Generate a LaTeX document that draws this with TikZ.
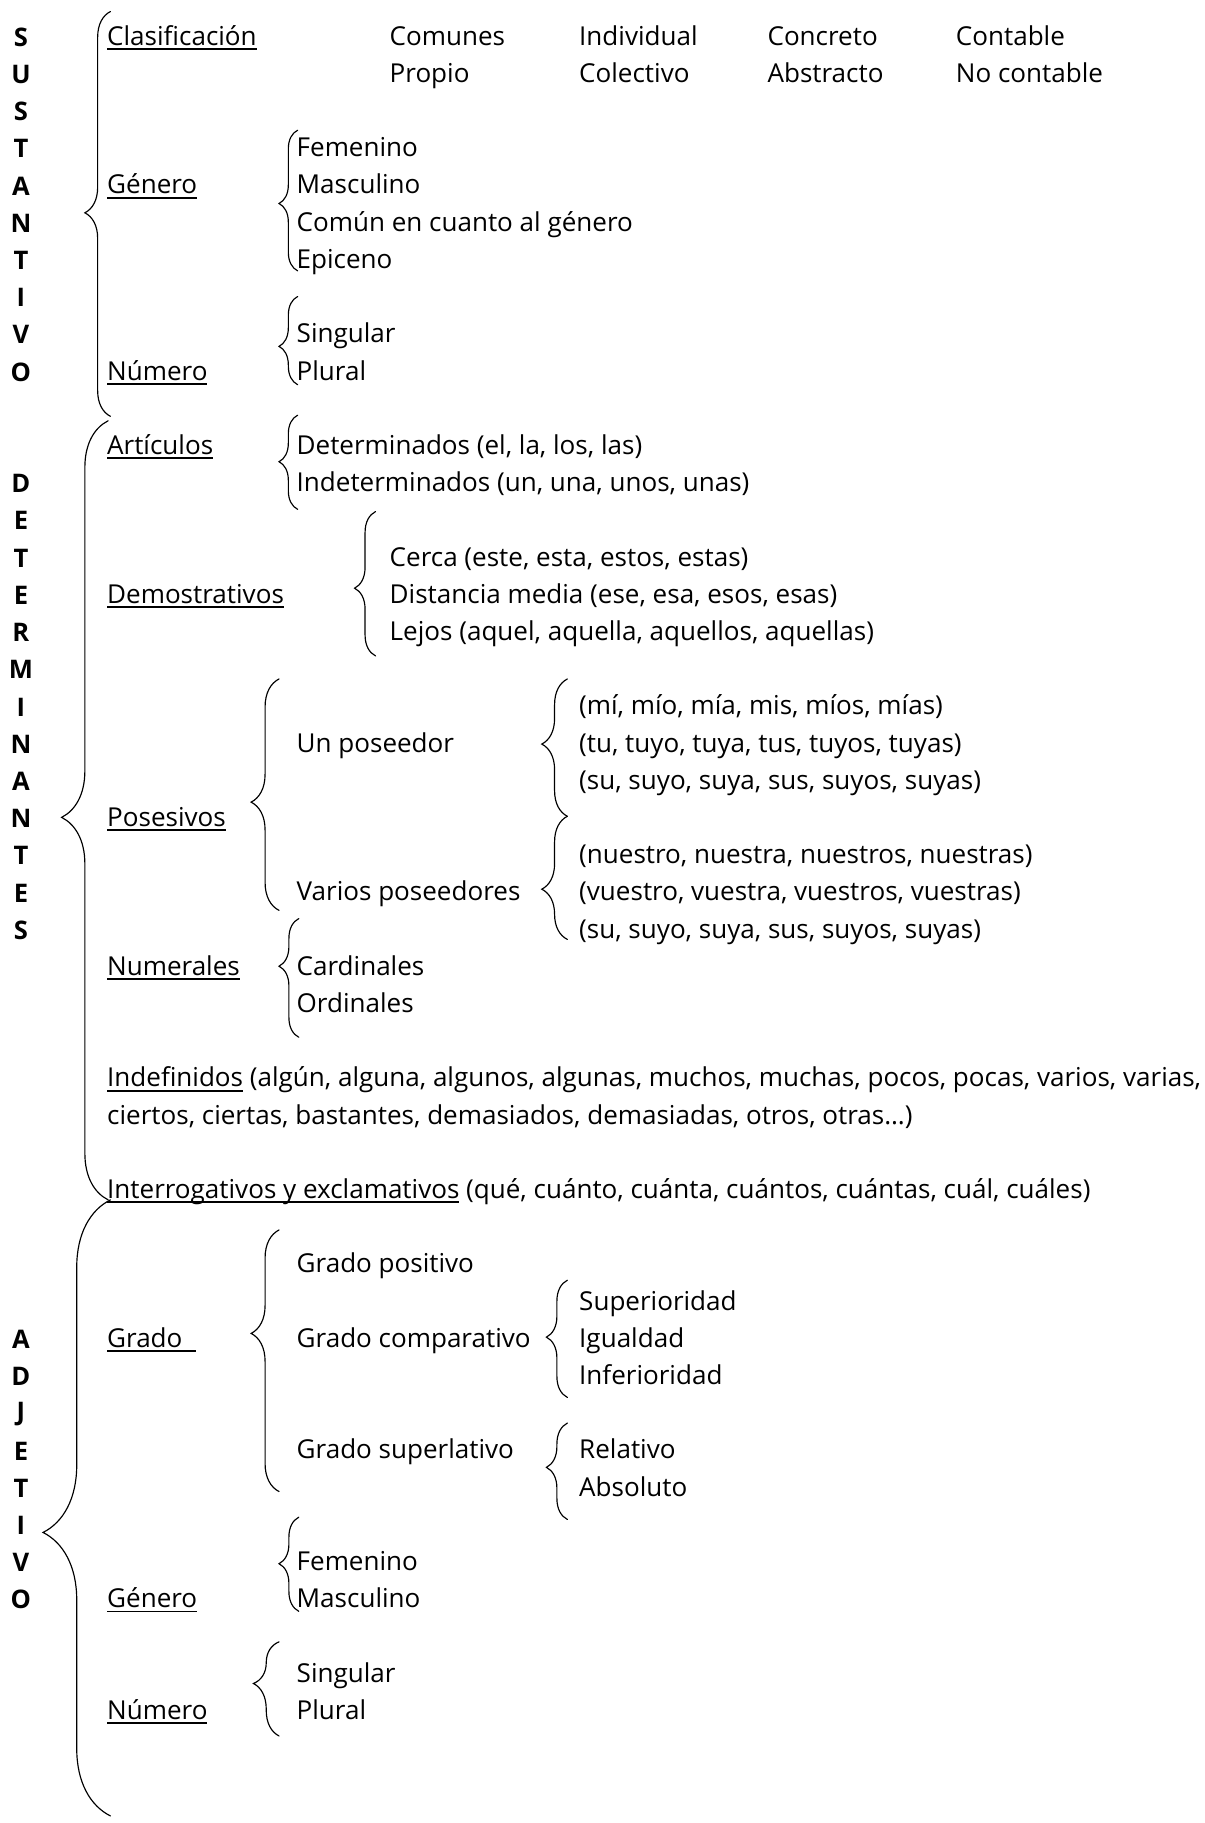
\documentclass[tikz,border=0pt]{standalone}
\usepackage{fontspec}
\setmainfont{Open Sans}
\usetikzlibrary{decorations.pathreplacing}
\tikzset{
    texto/.style = {
      anchor=west, inner sep=0pt, text height=1.5ex, text depth=.25ex, yshift=-3.5pt,
      font=\fontsize{22.4}{26}\selectfont,
    },
    letra/.style = {
      inner sep=0pt, font=\fontsize{22}{26}\selectfont\bfseries,
    },
    llave/.style = {decorate, line width=1pt, line cap=round},
}
\newcommand{\subr}[1]{%
  %% Underlined heading, thick rule below the baseline
  \setbox0=\hbox{#1}\rlap{\rule[-4pt]{\wd0}{1.6pt}}\box0\relax
}
\newcommand{\llave}[5]{%
  %% Draw a curly brace pointing to the left:
  %% Arguments:
  %%    1. x of the brace ends
  %%    2. top row
  %%    3. row of the tip
  %%    4. bottom row
  %%    5. amplitude
  \pgfmathsetmacro{\asp}{(#4-#3)/(#4-#2)}
  \draw [llave, decoration={brace, amplitude=#5, aspect=\asp}] (#1,#4) -- (#1,#2);
}

\begin{document}
\begin{tikzpicture}[x=1pt, y=-32pt]
    \useasboundingbox (0,0) rectangle (1036,49);

    %% Vertical titles
    \foreach \l [count=\i] in {S,U,S,T,A,N,T,I,V,O}
      \node [letra] (sus-\i) at (18,\i) {\l};
    \foreach \l [count=\i from 13] in {D,E,T,E,R,M,I,N,A,N,T,E,S}
      \node [letra] (det-\i) at (18,\i) {\l};
    \foreach \l [count=\i from 36] in {A,D,J,E,T,I,V,O}
      \node [letra] (adj-\i) at (18,\i) {\l};

    %% Sustantivo
    \llave{95}{0.31}{5.72}{11.19}{22pt}
    \node [texto] (s-clas) at (92,1) {\subr{Clasificación}};
    \foreach \x/\arriba/\abajo [count=\i] in {335/Comunes/Propio, 498/Individual/Colectivo,
        660/Concreto/Abstracto, 822/Contable/No contable}{
      \node [texto] (s-clas-\i a) at (\x,1) {\arriba};
      \node [texto] (s-clas-\i b) at (\x,2) {\abajo};
    }
    \node [texto] (s-gen) at (92,5) {\subr{Género}};
    \llave{256}{3.5}{5.47}{7.28}{16pt}
    \foreach \t [count=\i from 4] in {Femenino, Masculino, Común en cuanto al género, Epiceno}
      \node [texto] (s-gen-\i) at (255,\i) {\t};
    \node [texto] (s-num) at (92,10) {\subr{Número}};
    \llave{256}{7.97}{9.31}{10.34}{16pt}
    \node [texto] (s-num-9) at (255,9) {Singular};
    \node [texto] (s-num-10) at (255,10) {Plural};

    %% Determinantes
    \llave{93}{11.31}{21.97}{32.25}{40pt}
    \node [texto] (d-art) at (92,12) {\subr{Artículos}};
    \llave{256}{11.16}{12.41}{13.69}{16pt}
    \node [texto] (d-art-12) at (255,12) {Determinados (el, la, los, las)};
    \node [texto] (d-art-13) at (255,13) {Indeterminados (un, una, unos, unas)};

    \node [texto] (d-dem) at (92,16) {\subr{Demostrativos}};
    \llave{323}{13.75}{15.81}{17.63}{18pt}
    \node [texto] (d-dem-15) at (335,15) {Cerca (este, esta, estos, estas)};
    \node [texto] (d-dem-16) at (335,16) {Distancia media (ese, esa, esos, esas)};
    \node [texto] (d-dem-17) at (335,17) {Lejos (aquel, aquella, aquellos, aquellas)};

    \node [texto] (d-pos) at (92,22) {\subr{Posesivos}};
    \llave{240}{18.25}{21.56}{24.47}{24pt}
    \node [texto] (d-pos-un) at (255,20) {Un poseedor};
    \node [texto] (d-pos-var) at (255,24) {Varios poseedores};
    \llave{488}{18.25}{20.0}{21.94}{22pt}
    \llave{488}{21.94}{23.9}{25.25}{22pt}
    \node [texto] (d-pos-19) at (498,19) {(mí, mío, mía, mis, míos, mías)};
    \node [texto] (d-pos-20) at (498,20) {(tu, tuyo, tuya, tus, tuyos, tuyas)};
    \node [texto] (d-pos-21) at (498,21) {(su, suyo, suya, sus, suyos, suyas)};
    \node [texto] (d-pos-23) at (498,23) {(nuestro, nuestra, nuestros, nuestras)};
    \node [texto] (d-pos-24) at (498,24) {(vuestro, vuestra, vuestros, vuestras)};
    \node [texto] (d-pos-25) at (498,25) {(su, suyo, suya, sus, suyos, suyas)};

    \node [texto] (d-numr) at (92,26) {\subr{Numerales}};
    \llave{257}{24.69}{25.97}{27.88}{17pt}
    \node [texto] (d-numr-26) at (255,26) {Cardinales};
    \node [texto] (d-numr-27) at (255,27) {Ordinales};

    \node [texto] (d-indef) at (92,29)
      {\subr{Indefinidos} (algún, alguna, algunos, algunas, muchos, muchas, pocos, pocas, varios, varias,};
    \node [texto] (d-indef-2) at (92,30)
      {ciertos, ciertas, bastantes, demasiados, demasiadas, otros, otras…)};
    \node [texto] (d-inter) at (92,32)
      {\subr{Interrogativos y exclamativos} (qué, cuánto, cuánta, cuántos, cuántas, cuál, cuáles)};

    %% Adjetivo
    \llave{95}{32.25}{41.19}{48.81}{58pt}
    \node [texto] (a-grado) at (92,36) {\subr{Grado\ \ }};
    \llave{240}{33.06}{35.84}{40.09}{24pt}
    \node [texto] (a-grado-pos) at (255,34) {Grado positivo};
    \node [texto] (a-grado-comp) at (255,36) {Grado comparativo};
    \node [texto] (a-grado-sup) at (255,39) {Grado superlativo};
    \llave{488}{34.41}{35.94}{37.56}{18pt}
    \foreach \t [count=\i from 35] in {Superioridad, Igualdad, Inferioridad}
      \node [texto] (a-comp-\i) at (498,\i) {\t};
    \llave{488}{38.25}{39.44}{40.84}{18pt}
    \node [texto] (a-sup-39) at (498,39) {Relativo};
    \node [texto] (a-sup-40) at (498,40) {Absoluto};

    \node [texto] (a-gen) at (92,43) {\subr{Género}};
    \llave{257}{40.78}{42.03}{43.31}{17pt}
    \node [texto] (a-gen-42) at (255,42) {Femenino};
    \node [texto] (a-gen-43) at (255,43) {Masculino};

    \node [texto] (a-num) at (92,46) {\subr{Número}};
    \llave{240}{44.13}{45.25}{46.66}{22pt}
    \node [texto] (a-num-45) at (255,45) {Singular};
    \node [texto] (a-num-46) at (255,46) {Plural};
\end{tikzpicture}
\end{document}
